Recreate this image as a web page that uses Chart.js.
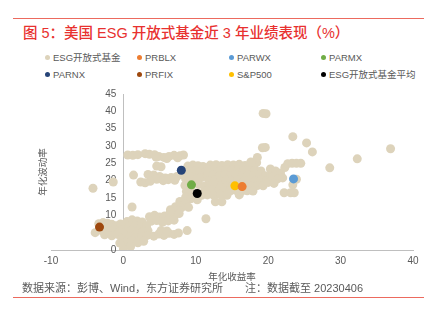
<!DOCTYPE html>
<html>
<head>
<meta charset="utf-8">
<script src="https://cdn.jsdelivr.net/npm/chart.js@4"></script>
<style>
  body { margin:0; background:#fff; width:435px; height:332px; position:relative; overflow:hidden;
         font-family: Arial, "Liberation Sans", "Noto Sans CJK SC", sans-serif; }
  #chart { position:absolute; left:0; top:0; }
  .rule { position:absolute; left:13px; width:411px; height:1px; background:#ec6a5e; }
  #title { position:absolute; left:23px; top:21px; font-size:14.5px; font-weight:500; color:#e8312f;
           white-space:nowrap; }
  #legend { position:absolute; left:45px; top:52px; width:380px; }
  .item { position:absolute; font-size:9.5px; color:#595959; white-space:nowrap; line-height:12px; }
  .dot { display:inline-block; width:5px; height:5px; border-radius:50%; margin-right:3px; vertical-align:1px; }
  #source { position:absolute; left:22px; top:279px; font-size:11px; color:#595959; white-space:nowrap; }
</style>
</head>
<body>
<div class="rule" style="top:18px"></div>
<div id="title">图 5：美国 ESG 开放式基金近 3 年业绩表现（%）</div>
<div id="legend"></div>
<canvas id="chart" width="435" height="332"></canvas>
<div id="source">数据来源：彭博、Wind，东方证券研究所　　注：数据截至 20230406</div>
<div class="rule" style="top:297px"></div>
<script>
// series names, in legend order
const seriesNames = ['ESG开放式基金', 'PRBLX', 'PARWX', 'PARMX', 'PARNX', 'PRFIX', 'S&P500', 'ESG开放式基金平均'];
const seriesColors = ['#ddd3bb', '#ed7d31', '#5b9bd5', '#70ad47', '#264478', '#9e480e', '#ffc000', '#000000'];

// single funds / index: [annualised return, annualised volatility]
const fundX = [null, 16.4, 23.5, 9.4, 8.0, -3.3, 15.4, 10.2];
const fundY = [null, 18.3, 20.5, 18.8, 23.0, 6.6, 18.5, 16.3];

// ESG open-end funds cloud: [return, volatility]
const esgFunds = [
  // top band
  [0.6,27.4],[1.3,27.3],[2.0,27.5],[3.0,27.8],[3.6,27.6],[4.3,27.5],[4.9,27.0],[5.6,26.7],[6.3,27.0],[7.0,27.3],
  [7.8,27.2],[8.3,27.4],[4.5,26.8],[6.0,26.4],[7.5,26.6],
  [4.6,24.2],[5.2,24.0],[1.4,21.6],[3.4,21.8],[4.2,21.6],[5.0,21.2],[5.8,20.8],[6.6,20.9],[7.4,21.2],[8.3,21.6],
  [4.6,20.4],[5.5,20.0],[6.2,20.3],[7.1,20.1],[2.4,19.6],[3.0,19.4],[3.7,19.8],
  [-4.2,17.8],[-1.4,19.6],[1.2,12.4],
  // main cloud, left part
  [8.9,24.2],[9.6,24.5],[10.3,24.3],[11.0,24.1],[9.0,22.5],[9.8,22.8],[10.6,22.4],[11.4,22.6],[8.6,20.5],[9.3,21.0],
  [10.1,20.6],[10.8,20.9],[8.5,18.6],[10.4,18.9],[11.2,18.4],[8.7,16.9],[9.5,16.8],[11.0,16.5],[8.6,15.2],[9.3,14.8],
  [10.2,14.5],[7.8,14.0],[8.5,13.4],[7.2,12.5],[8.0,12.2],[9.0,12.3],[6.5,11.6],[7.6,11.4],
  // main cloud, middle
  [12.0,24.5],[12.8,24.6],[13.6,24.4],[14.4,24.6],[15.2,24.5],[16.0,24.7],[16.8,24.4],[17.5,24.2],
  [11.8,23.0],[12.6,23.2],[13.4,22.9],[14.2,23.1],[15.0,23.0],[15.8,23.2],[16.6,22.9],[17.4,23.0],[18.2,23.1],[19.0,22.8],
  [11.6,21.5],[12.4,21.7],[13.2,21.4],[14.0,21.6],[14.8,21.5],[15.6,21.7],[16.4,21.4],[17.2,21.6],[18.0,21.5],[18.8,21.7],
  [19.6,21.4],[20.4,21.6],
  [11.8,20.0],[12.6,20.2],[13.4,19.9],[14.2,20.1],[15.0,20.0],[15.8,20.2],[16.6,19.9],[17.4,20.1],[18.2,20.0],[19.0,20.2],
  [19.8,19.9],
  [11.9,18.5],[12.7,18.7],[13.5,18.4],[14.3,18.6],[15.1,18.5],[16.9,18.6],[17.7,18.4],[18.5,18.6],[19.3,18.5],
  [11.5,17.0],[12.3,17.2],[13.1,16.9],[13.9,17.1],[14.7,17.0],[15.5,17.2],[16.3,16.9],[17.1,17.1],[17.9,17.0],
  [10.8,15.8],[11.6,15.9],[12.5,15.7],[13.4,15.9],[14.3,15.8],[16.0,15.9],
  [12.7,13.9],[13.6,13.9],[11.4,9.0],
  // main cloud, right part and outliers
  [18.4,25.2],[17.6,25.4],[18.5,26.7],[19.2,29.5],[19.6,29.6],[19.3,39.4],[19.7,39.3],[20.3,23.4],[21.0,22.8],[21.7,22.2],
  [22.3,23.8],[22.7,24.9],[23.3,25.0],[23.9,25.0],[24.5,25.0],[20.6,21.0],[21.3,20.5],[22.0,20.8],[23.9,20.4],[23.4,18.8],
  [22.2,16.5],[23.1,16.5],[23.6,16.5],[20.0,19.5],[20.8,19.2],
  [23.4,32.7],[25.3,30.9],[26.1,28.3],[36.9,29.2],[32.3,26.3],[28.5,23.7],
  // low-volatility group, left
  [-3.9,5.0],[-3.4,7.6],[-2.8,7.9],[-2.2,7.7],[-1.6,7.4],[-1.0,7.0],[-0.4,7.5],[-3.0,5.6],[-2.4,6.0],[-1.8,5.4],
  [-1.2,5.8],[-0.6,5.2],[0.0,6.0],[-2.6,4.4],[-1.6,4.1],[-0.8,4.5],[-0.2,3.6],
  // low-volatility group, middle
  [0.5,8.2],[1.2,8.7],[1.9,8.4],[2.6,8.1],[0.8,6.8],[1.6,7.1],[2.4,6.6],[3.2,6.9],[0.4,5.2],[1.1,5.6],
  [1.9,5.1],[2.7,5.3],[3.4,5.6],[0.9,3.8],[1.7,3.5],[2.5,3.9],[3.3,4.2],[0.3,2.2],[1.2,2.6],[2.0,2.1],
  [2.8,2.5],[1.0,1.0],[0.0,0.3],[-0.5,2.0],
  // low-volatility group, right
  [3.6,9.6],[4.3,10.0],[5.0,9.5],[5.7,9.8],[6.4,10.2],[7.1,10.0],[7.7,10.5],[6.5,11.2],[3.8,8.3],[4.6,8.5],
  [5.4,8.0],[6.2,8.4],[7.0,8.6],
  [4.2,4.0],[4.9,4.6],[5.6,4.2],[6.3,4.8],[7.0,4.5],[7.6,4.9],[5.2,5.6],[6.0,5.5],[8.8,5.6]
];

const xTicks = [-10, 0, 10, 20, 30, 40];
const yTicks = [0, 5, 10, 15, 20, 25, 30, 35, 40, 45];
const xTitle = '年化收益率';
const yTitle = '年化波动率';

// html legend, 4 columns x 2 rows
const legend = document.getElementById('legend');
seriesNames.forEach((name, i) => {
  const div = document.createElement('div');
  div.className = 'item';
  div.style.left = (i % 4) * 92 + 'px';
  div.style.top = Math.floor(i / 4) * 17 + 'px';
  div.innerHTML = `<span class="dot" style="background:${seriesColors[i]}"></span>`;
  div.appendChild(document.createTextNode(name));
  legend.appendChild(div);
});

const datasets = seriesNames.map((name, i) => ({
  label: name,
  data: i === 0 ? esgFunds.map(p => ({ x: p[0], y: p[1] })) : [{ x: fundX[i], y: fundY[i] }],
  backgroundColor: seriesColors[i],
  borderWidth: 0,
  pointRadius: 4.5,
  order: i === 0 ? 1 : 0
}));

// axes cross at 0: tick labels and titles are placed by hand from the scales
const axisText = {
  id: 'axisText',
  beforeDatasetsDraw(chart) {
    const { ctx, chartArea: a, scales: { x, y } } = chart;
    const x0 = x.getPixelForValue(0), y0 = y.getPixelForValue(0);
    ctx.save();
    ctx.fillStyle = '#595959';
    ctx.font = '10px Arial, "Liberation Sans", sans-serif';
    ctx.textAlign = 'right';
    ctx.textBaseline = 'middle';
    yTicks.forEach(v => ctx.fillText(String(v), x0 - 7, y.getPixelForValue(v)));
    ctx.textAlign = 'center';
    ctx.textBaseline = 'top';
    xTicks.forEach(v => ctx.fillText(String(v), x.getPixelForValue(v), y0 + 6));
    ctx.font = '9.5px "Noto Sans CJK SC", sans-serif';
    ctx.textBaseline = 'middle';
    ctx.fillText(xTitle, (a.left + a.right) / 2, a.bottom + 26);
    ctx.translate(a.left - 9, (a.top + a.bottom) / 2);
    ctx.rotate(-Math.PI / 2);
    ctx.fillText(yTitle, 0, 0);
    ctx.restore();
  }
};

new Chart(document.getElementById('chart'), {
  type: 'scatter',
  data: { datasets },
  options: {
    responsive: false,
    animation: false,
    layout: { padding: { left: 51, right: 22, top: 94, bottom: 82 } },
    plugins: { legend: { display: false }, tooltip: { enabled: false } },
    scales: {
      x: {
        position: { y: 0 },
        min: -10, max: 40,
        afterBuildTicks: s => { s.ticks = xTicks.map(v => ({ value: v })); },
        grid: { display: false, drawTicks: false },
        border: { display: true, color: '#bfbfbf', width: 1 },
        ticks: { display: false }
      },
      y: {
        position: { x: 0 },
        min: 0, max: 45,
        afterBuildTicks: s => { s.ticks = yTicks.map(v => ({ value: v })); },
        grid: { display: false, drawTicks: false },
        border: { display: true, color: '#bfbfbf', width: 1 },
        ticks: { display: false }
      }
    }
  },
  plugins: [axisText]
});
</script>
</body>
</html>
